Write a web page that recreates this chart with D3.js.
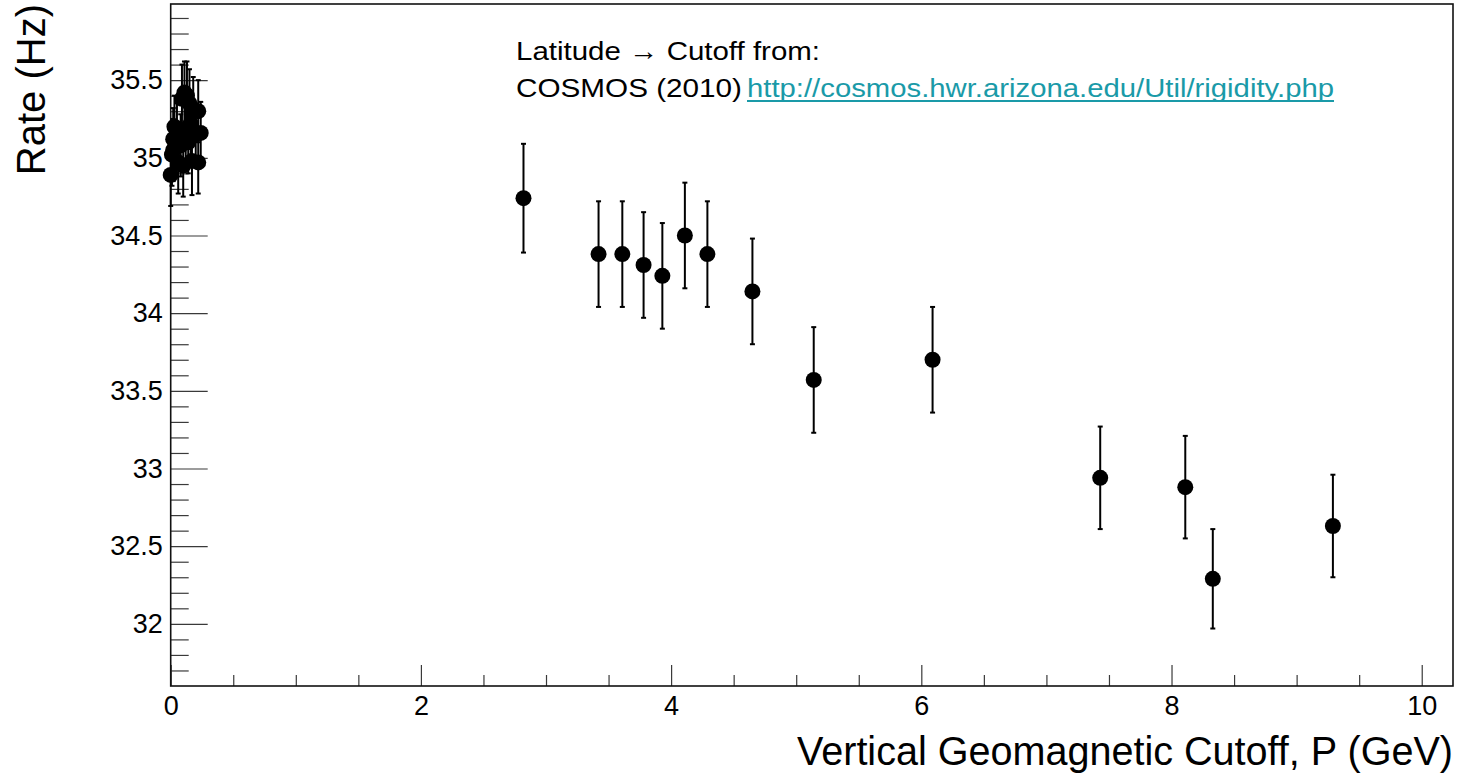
<!DOCTYPE html>
<html>
<head>
<meta charset="utf-8">
<script src="https://cdn.jsdelivr.net/npm/d3@7"></script>
<style>
  html, body { margin: 0; padding: 0; background: #fff; }
  svg { display: block; font-family: "Liberation Sans", Arial, Helvetica, sans-serif; }
</style>
</head>
<body>
<svg id="chart" width="1461" height="774"></svg>
<script>
// ---- data ----
const cutoffs = [0.00, 0.01, 0.02, 0.02, 0.03, 0.05, 0.06, 0.08, 0.09, 0.10, 0.11, 0.12, 0.13, 0.14, 0.15, 0.16, 0.17, 0.18, 0.20, 0.22, 0.22, 0.24,
                 2.82, 3.42, 3.61, 3.78, 3.93, 4.11, 4.29, 4.65, 5.14, 6.09, 7.43, 8.11, 8.33, 9.29];
const rates   = [34.89, 35.02, 35.12, 35.05, 35.20, 35.15, 34.97, 35.08, 35.38, 34.95, 35.42, 35.18, 35.40, 35.10, 35.35, 35.22, 34.98, 35.30, 35.15, 35.30, 34.97, 35.16,
                 34.74, 34.38, 34.38, 34.31, 34.24, 34.50, 34.38, 34.14, 33.57, 33.70, 32.94, 32.88, 32.29, 32.63];
const rateErrors = [0.20, 0.20, 0.20, 0.20, 0.20, 0.20, 0.20, 0.20, 0.22, 0.20, 0.20, 0.20, 0.22, 0.20, 0.22, 0.20, 0.22, 0.22, 0.20, 0.20, 0.20, 0.20,
                    0.35, 0.34, 0.34, 0.34, 0.34, 0.34, 0.34, 0.34, 0.34, 0.34, 0.33, 0.33, 0.32, 0.33];
const xTickValues = [0, 2, 4, 6, 8, 10];
const xTickLabels = ["0", "2", "4", "6", "8", "10"];
const yTickValues = [32, 32.5, 33, 33.5, 34, 34.5, 35, 35.5];
const yTickLabels = ["32", "32.5", "33", "33.5", "34", "34.5", "35", "35.5"];
const xTitle = "Vertical Geomagnetic Cutoff, P (GeV)";
const yTitle = "Rate (Hz)";
const noteLine1 = "Latitude \u2192 Cutoff from:";
const noteLine2 = "COSMOS (2010) ";
const noteLink = "http://cosmos.hwr.arizona.edu/Util/rigidity.php";

// ---- layout ----
const W = 1461, H = 774;
const frame = { left: 170.7, top: 4, right: 1453, bottom: 686 };
const svg = d3.select("#chart");

const x = d3.scaleLinear().domain([0, 10.25]).range([frame.left, frame.right]);
const y = d3.scaleLinear().domain([31.6, 35.99]).range([frame.bottom, frame.top]);

const tickColor = "#3a3a3a";

// minor ticks
const xMinor = d3.range(0, 10.25, 0.5).filter(v => Math.abs(v / 2 - Math.round(v / 2)) > 1e-6);
const yMinor = d3.range(31.7, 35.99, 0.1).filter(v => Math.abs(v * 2 - Math.round(v * 2)) > 1e-6);

const gx = svg.append("g").attr("transform", `translate(0,${frame.bottom})`)
  .call(d3.axisBottom(x).tickValues(xTickValues)
    .tickFormat((d, i) => xTickLabels[i]).tickSizeInner(-21).tickSizeOuter(0).tickPadding(10));
gx.select(".domain").remove();
gx.selectAll(".tick line").attr("stroke", tickColor).attr("stroke-width", 1.2);
gx.selectAll(".tick text").attr("font-size", 27).attr("fill", "#000")
  .attr("font-family", "Liberation Sans, Arial, sans-serif");

const gxm = svg.append("g").attr("transform", `translate(0,${frame.bottom})`)
  .call(d3.axisBottom(x).tickValues(xMinor).tickFormat("").tickSizeInner(-11).tickSizeOuter(0));
gxm.select(".domain").remove();
gxm.selectAll(".tick line").attr("stroke", tickColor).attr("stroke-width", 1.2);

const gy = svg.append("g").attr("transform", `translate(${frame.left},0)`)
  .call(d3.axisLeft(y).tickValues(yTickValues)
    .tickFormat((d, i) => yTickLabels[i]).tickSizeInner(-37).tickSizeOuter(0).tickPadding(8));
gy.select(".domain").remove();
gy.selectAll(".tick line").attr("stroke", tickColor).attr("stroke-width", 1.2);
gy.selectAll(".tick text").attr("font-size", 27).attr("fill", "#000")
  .attr("font-family", "Liberation Sans, Arial, sans-serif");

const gym = svg.append("g").attr("transform", `translate(${frame.left},0)`)
  .call(d3.axisLeft(y).tickValues(yMinor).tickFormat("").tickSizeInner(-18).tickSizeOuter(0));
gym.select(".domain").remove();
gym.selectAll(".tick line").attr("stroke", tickColor).attr("stroke-width", 1.2);

// frame
svg.append("rect")
  .attr("x", frame.left).attr("y", frame.top)
  .attr("width", frame.right - frame.left).attr("height", frame.bottom - frame.top)
  .attr("fill", "none").attr("stroke", "#111").attr("stroke-width", 1.6);

// data points with error bars
const pts = cutoffs.map((c, i) => ({ c, r: rates[i], e: rateErrors[i] }));
const gp = svg.append("g");
gp.selectAll("line.err").data(pts).join("line").attr("class", "err")
  .attr("x1", d => x(d.c)).attr("x2", d => x(d.c))
  .attr("y1", d => y(d.r + d.e)).attr("y2", d => y(d.r - d.e))
  .attr("stroke", "#000").attr("stroke-width", 2);
gp.selectAll("line.capt").data(pts).join("line").attr("class", "capt")
  .attr("x1", d => x(d.c) - 2.5).attr("x2", d => x(d.c) + 2.5)
  .attr("y1", d => y(d.r + d.e)).attr("y2", d => y(d.r + d.e))
  .attr("stroke", "#000").attr("stroke-width", 2);
gp.selectAll("line.capb").data(pts).join("line").attr("class", "capb")
  .attr("x1", d => x(d.c) - 2.5).attr("x2", d => x(d.c) + 2.5)
  .attr("y1", d => y(d.r - d.e)).attr("y2", d => y(d.r - d.e))
  .attr("stroke", "#000").attr("stroke-width", 2);
gp.selectAll("circle").data(pts).join("circle")
  .attr("cx", d => x(d.c)).attr("cy", d => y(d.r)).attr("r", 8)
  .attr("fill", "#000");

// axis titles
svg.append("text")
  .attr("x", frame.right).attr("y", 765)
  .attr("text-anchor", "end").attr("font-size", 40)
  .attr("textLength", 656).attr("lengthAdjust", "spacingAndGlyphs")
  .attr("fill", "#000").text(xTitle);

svg.append("text")
  .attr("transform", `translate(45,${frame.top}) rotate(-90)`)
  .attr("text-anchor", "end").attr("font-size", 40)
  .attr("fill", "#000").text(yTitle);

// annotation
svg.append("text").attr("x", 516).attr("y", 60).attr("font-size", 26.5)
  .attr("textLength", 304).attr("lengthAdjust", "spacingAndGlyphs")
  .attr("fill", "#000").text(noteLine1);
svg.append("text").attr("x", 516).attr("y", 97).attr("font-size", 26.5)
  .attr("textLength", 226).attr("lengthAdjust", "spacingAndGlyphs")
  .attr("fill", "#000").text(noteLine2.trim());
svg.append("text").attr("x", 747).attr("y", 97).attr("font-size", 26.5)
  .attr("textLength", 587).attr("lengthAdjust", "spacingAndGlyphs")
  .attr("fill", "#1a9aa8").text(noteLink);
svg.append("line").attr("x1", 747).attr("x2", 1334).attr("y1", 101).attr("y2", 101)
  .attr("stroke", "#1a9aa8").attr("stroke-width", 2);
</script>
</body>
</html>
